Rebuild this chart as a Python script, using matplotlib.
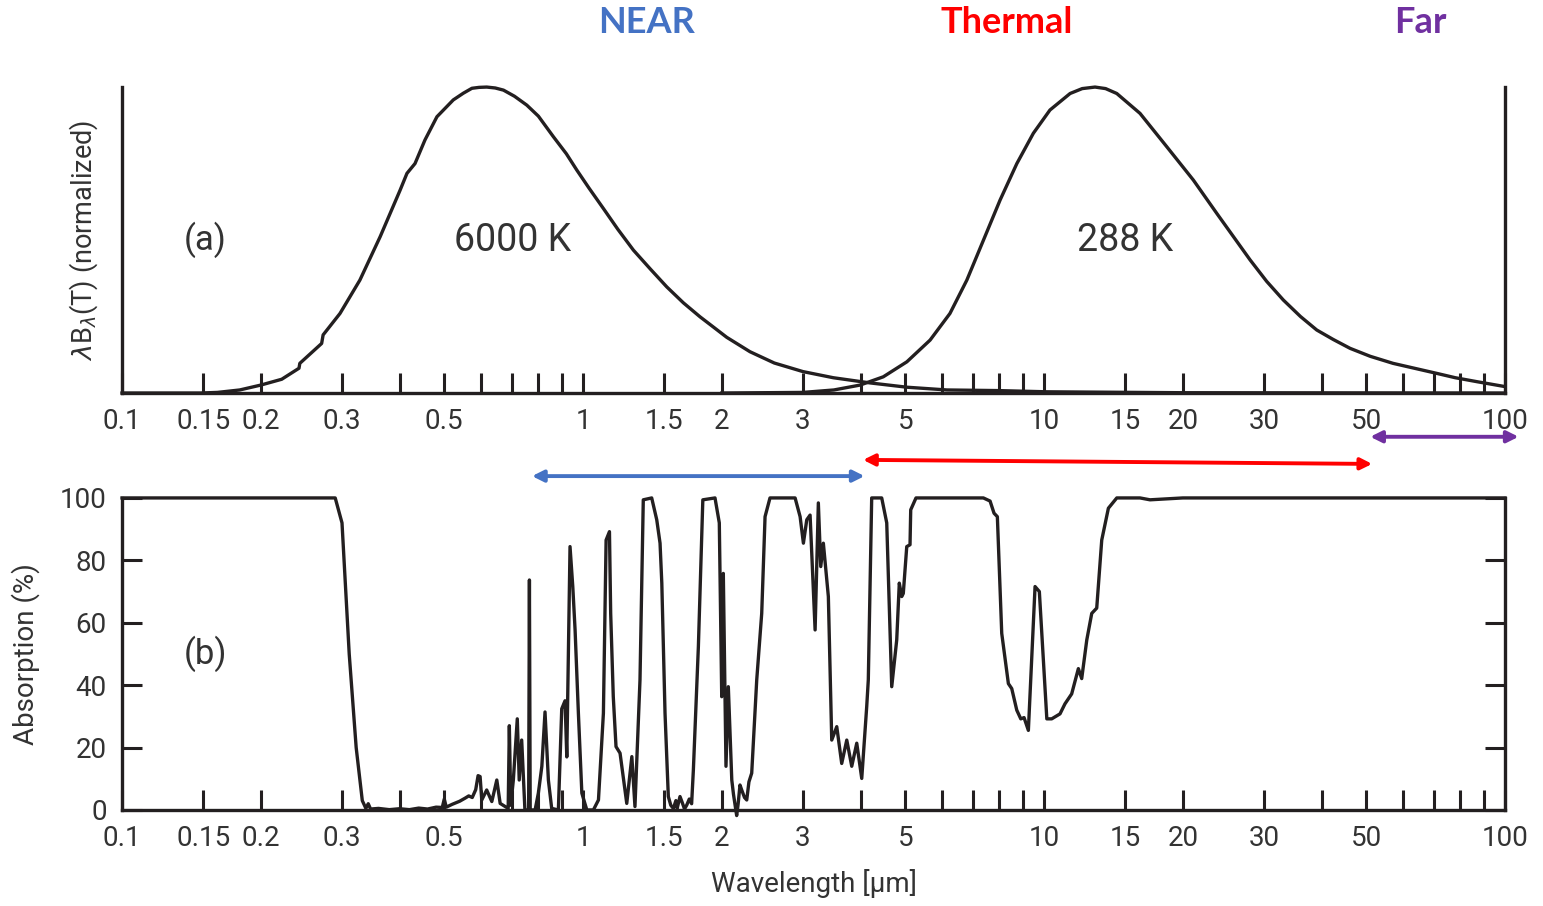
#!/usr/bin/env python3
"""
Blackbody curves (6000 K / 288 K) and atmospheric absorption vs wavelength.
Two stacked panels on a shared log wavelength axis, 0.1 - 100 um.
"""

import matplotlib; matplotlib.use("Agg")
import matplotlib.pyplot as plt
from matplotlib.ticker import FixedLocator, FixedFormatter, NullFormatter

plt.rcParams["font.family"] = ["Roboto", "DejaVu Sans"]

# ============================================================================
# data
# ============================================================================

# (a) normalized lambda*B_lambda(T)
BB6000_WL = [0.1, 0.148, 0.161, 0.180, 0.2, 0.222, 0.242, 0.243, 0.271, 0.273,
             0.297, 0.328, 0.363, 0.401, 0.415, 0.432, 0.454, 0.482, 0.523,
             0.55, 0.574, 0.595, 0.618, 0.645, 0.672, 0.71, 0.755, 0.80,
             0.862, 0.92, 0.969, 1.03, 1.107, 1.19, 1.286, 1.4, 1.519, 1.65,
             1.794, 1.92, 2.05, 2.302, 2.6, 3.0, 3.49, 4.195, 5.04, 6.16, 7.93,
             10.15, 20, 100]
BB6000 = [0, 0, 0.002, 0.01, 0.026, 0.045, 0.081, 0.097, 0.162, 0.19,
          0.26, 0.369, 0.511, 0.663, 0.718, 0.75, 0.827, 0.903, 0.958,
          0.98, 0.996, 0.999, 1.0, 0.997, 0.99, 0.97, 0.941, 0.905,
          0.838, 0.782, 0.729, 0.67, 0.603, 0.535, 0.467, 0.405, 0.347, 0.295,
          0.249, 0.215, 0.182, 0.135, 0.098, 0.07, 0.05, 0.033, 0.019, 0.01,
          0.008, 0.004, 0.001, 0.0]

BB288_WL = [2.0, 3.0, 3.5, 3.99, 4.48, 5.04, 5.66, 6.25, 6.80, 7.39, 8.03,
            8.73, 9.48, 10.3, 11.39, 12.1, 12.9, 13.6, 14.38, 16.15, 18.46,
            21.08, 23.7, 27.99, 30.4, 33.04, 36.0, 39.04, 42.4, 46.12, 51.0,
            57.15, 64.0, 71.2, 78.0, 86.96, 100]
BB288 = [0, 0.002, 0.01, 0.026, 0.053, 0.102, 0.173, 0.26, 0.369, 0.5, 0.631,
         0.75, 0.849, 0.925, 0.979, 0.995, 1.0, 0.995, 0.979, 0.914, 0.805,
         0.696, 0.587, 0.435, 0.365, 0.304, 0.25, 0.206, 0.175, 0.146, 0.12,
         0.097, 0.08, 0.064, 0.05, 0.037, 0.021]

# (b) atmospheric absorption (%)
ABS_WL = [0.1, 0.29, 0.3, 0.311, 0.322, 0.332, 0.338, 0.342, 0.346, 0.36,
          0.38, 0.40, 0.42, 0.44, 0.46, 0.48, 0.495, 0.50, 0.505, 0.52,
          0.54, 0.555, 0.565, 0.575, 0.585, 0.592, 0.598, 0.603, 0.618,
          0.634, 0.65, 0.661, 0.688, 0.692, 0.697, 0.706, 0.720, 0.727,
          0.736, 0.748, 0.762, 0.765, 0.768, 0.787, 0.800, 0.814, 0.827,
          0.841, 0.855, 0.884, 0.899, 0.914, 0.922, 0.937, 0.950, 0.961,
          0.977, 0.994, 1.019, 1.053, 1.080, 1.107, 1.122, 1.141, 1.148,
          1.163, 1.179, 1.203, 1.244, 1.276, 1.296, 1.329, 1.351, 1.409,
          1.445, 1.469, 1.482, 1.506, 1.531, 1.55, 1.570, 1.59, 1.60, 1.623,
          1.64, 1.66, 1.679, 1.70, 1.72, 1.735,
          1.779, 1.819, 1.933, 1.975, 1.999, 2.015, 2.042, 2.066, 2.102,
          2.12, 2.154, 2.17, 2.19, 2.209, 2.24, 2.265, 2.29, 2.322, 2.381,
          2.441, 2.482, 2.544, 2.884,
          2.957, 3.006, 3.057, 3.108, 3.187, 3.239, 3.278, 3.321, 3.405,
          3.463, 3.551, 3.640, 3.733, 3.827, 3.924, 4.023, 4.124, 4.157,
          4.228, 4.445, 4.558, 4.673, 4.791, 4.853, 4.912, 4.951, 5.037,
          5.120, 5.138, 5.275, 7.386, 7.637, 7.790, 7.920, 8.095, 8.368,
          8.510, 8.726, 8.903, 9.050, 9.247, 9.561, 9.768, 10.14, 10.39,
          10.83, 11.10, 11.48, 11.87, 12.07, 12.38, 12.69, 13.01, 13.34,
          13.79, 14.38, 16.15, 16.98, 20, 100]
ABS_PCT = [100, 100, 92, 50, 20, 3, 0.5, 2.0, 0.3, 0.5,
           0.1, 0.4, 0.1, 0.6, 0.3, 0.9, 0.8, 3.5, 0.9, 1.8,
           2.8, 3.8, 4.5, 4.0, 6.5, 11, 10.7, 3.2, 6.4,
           2.7, 9.6, 2.1, 0.5, 27, 1.5, 9.6, 29.2, 9.6,
           22.4, 0, 0, 73.7, 0, 0, 5.4, 14, 31.4,
           9.6, 0.5, 0, 32.4, 35, 17, 84.4, 71.6, 57.7,
           31, 5.4, 0, 0, 3.2, 31, 86.5, 89.2, 63,
           36.3, 20.3, 18.2, 2.1, 17.1, 1.1, 41.7, 99.4, 100,
           93, 85.5, 72.7, 31, 4.3, 1.5, 0.5, 3.0, 0.5, 4.3,
           2.5, 0.3, 1.6, 3.5, 2.0, 12.8,
           52.4, 99.4, 100, 92, 36.3, 75.8, 14, 39.5, 9.6,
           5.0, -1.8, 2.0, 8.0, 6.4, 4.0, 3.2, 9.0, 11.8, 41.7,
           63, 94, 100, 100,
           94, 85.5, 93, 94.5, 57.7, 98.4, 78, 85.5, 68.4,
           22.4, 26.7, 14.9, 22.4, 14, 21.4, 10.1, 33.1, 41.7,
           100, 100, 92, 39.5, 54.5, 72.7, 68.4, 69.4, 84.4,
           85, 96.2, 100, 100, 99, 95.1, 94, 56.6, 40.5,
           38.9, 32, 29.2, 29.6, 25.5, 71.6, 70, 29.2, 29.2,
           30.8, 34, 37.2, 45.3, 42.1, 54.5, 63, 64.7, 86.5,
           96.7, 100, 100, 99.4, 100, 100]

# x axis ticks
TICK_LABELED = [0.1, 0.15, 0.2, 0.3, 0.5, 1, 1.5, 2, 3, 5, 10, 15, 20, 30, 50, 100]
TICK_LABELS = ["0.1", "0.15", "0.2", "0.3", "0.5", "1", "1.5", "2", "3", "5",
               "10", "15", "20", "30", "50", "100"]
TICK_MINOR = [0.4, 0.6, 0.7, 0.8, 0.9, 4, 6, 7, 8, 9, 40, 60, 70, 80, 90]
ABS_TICKS = [0, 20, 40, 60, 80, 100]

# spectral bands: name, colour, label position, arrow span, arrow height (%)
BANDS = ["NEAR", "Thermal", "Far"]
BAND_COLORS = ["#4472C4", "#FF0000", "#7030A0"]
BAND_LABEL_X = [1.37, 8.3, 65.5]
BAND_SPAN = [(0.775, 4.08), (4.05, 51.5), (51.0, 107)]
BAND_Y = [(107, 107), (112.2, 110.9), (119.6, 119.6)]

INK = "#231f20"
TXT = "#333333"


def style_axis(ax):
    ax.set_xscale("log")
    ax.set_xlim(0.1, 100)
    ax.spines["top"].set_visible(False)
    for s in ["left", "right", "bottom"]:
        ax.spines[s].set_linewidth(2.4)
        ax.spines[s].set_color(INK)
    ax.xaxis.set_major_locator(FixedLocator(TICK_LABELED))
    ax.xaxis.set_major_formatter(FixedFormatter(TICK_LABELS))
    ax.xaxis.set_minor_locator(FixedLocator(TICK_MINOR))
    ax.xaxis.set_minor_formatter(NullFormatter())
    ax.tick_params(axis="x", which="both", direction="in", length=14.5,
                   width=2.2, color=INK, pad=11, labelsize=20,
                   labelcolor=TXT, top=False)


def plot():
    fig = plt.figure(figsize=(15.43, 9.06), dpi=100)
    ax1 = fig.add_axes([0.0791, 0.5662, 0.8963, 0.3377])
    ax2 = fig.add_axes([0.0791, 0.1060, 0.8963, 0.3444])

    # (a) blackbody curves
    style_axis(ax1)
    ax1.plot(BB6000_WL, BB6000, color=INK, lw=2.4, clip_on=False)
    ax1.plot(BB288_WL, BB288, color=INK, lw=2.4, clip_on=False)
    ax1.set_ylim(0, 1.0)
    ax1.set_yticks([])
    ax1.set_ylabel(r"$\lambda$B$_{\lambda}$(T) (normalized)", fontsize=19.5,
                   color=TXT, labelpad=16)
    ax1.text(0.1514, 0.5, "(a)", fontsize=25, color=TXT, ha="center", va="center")
    ax1.text(0.702, 0.5, "6000 K", fontsize=27, color=TXT, ha="center", va="center")
    ax1.text(15.0, 0.5, "288 K", fontsize=27, color=TXT, ha="center", va="center")

    for name, c, lx in zip(BANDS, BAND_COLORS, BAND_LABEL_X):
        ax1.text(lx, 1.21, name, transform=ax1.get_xaxis_transform(),
                 fontsize=26, fontweight="bold", color=c, family=["Lato", "DejaVu Sans"],
                 ha="center", va="center")

    # (b) absorption
    style_axis(ax2)
    ax2.plot(ABS_WL, ABS_PCT, color=INK, lw=2.4, clip_on=False)
    ax2.set_ylim(0, 100)
    ax2.set_yticks(ABS_TICKS)
    ax2.tick_params(axis="y", direction="in", length=14.5, width=2.2, color=INK,
                    pad=11, labelsize=20, labelcolor=TXT, right=True)
    ax2.set_ylabel("Absorption (%)", fontsize=20, color=TXT, labelpad=14)
    ax2.set_xlabel("Wavelength [μm]", fontsize=20, color=TXT, labelpad=12)
    ax2.text(0.1514, 50, "(b)", fontsize=25, color=TXT, ha="center", va="center")

    for c, (x0, x1), (y0, y1) in zip(BAND_COLORS, BAND_SPAN, BAND_Y):
        ax2.annotate("", xy=(x1, y1), xytext=(x0, y0), annotation_clip=False,
                     arrowprops=dict(arrowstyle="<|-|>", color=c, lw=2.8,
                                     mutation_scale=17, shrinkA=0, shrinkB=0))

    fig.savefig("out.png", dpi=100)
    plt.close(fig)


if __name__ == "__main__":
    plot()
